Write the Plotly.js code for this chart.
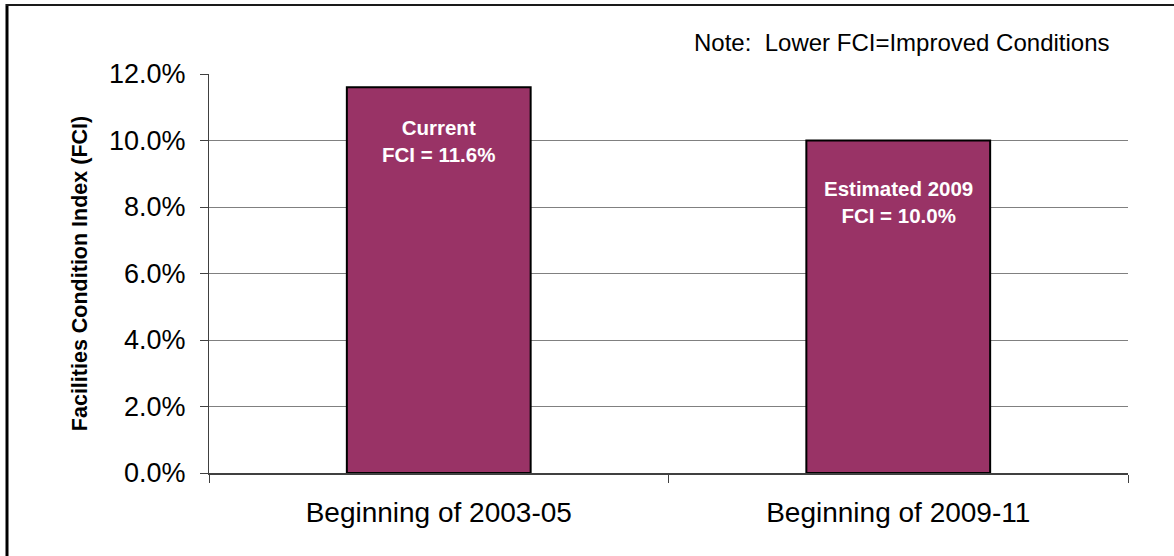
<!DOCTYPE html>
<html><head><meta charset="utf-8">
<script src="https://cdn.plot.ly/plotly-3.0.1.min.js"></script>
<style>html,body{margin:0;padding:0;background:#fff}#chart{width:1174px;height:556px}</style>
</head><body><div id="chart"></div>
<script>
const categories = ["Beginning of 2003-05", "Beginning of 2009-11"];
const fciValues = [0.116, 0.100];
const barLabelPrefixes = ["Current", "Estimated 2009"];
const labelYPositions = [0.0999, 0.0815];
const yTickVals = [0, 0.02, 0.04, 0.06, 0.08, 0.10, 0.12];
const yTickText = ["0.0%", "2.0%", "4.0%", "6.0%", "8.0%", "10.0%", "12.0%"];
const noteText = "Note:  Lower FCI=Improved Conditions";
const yTitle = "Facilities Condition Index (FCI)";

const FONT = "Liberation Sans, Arial, sans-serif";

const trace = {
  type: "bar",
  x: categories,
  y: fciValues,
  width: 0.4,
  marker: {color: "#993366", line: {color: "#000000", width: 2}},
  hoverinfo: "skip"
};

const plotL = 209, plotR = 1128, plotT = 74, plotB = 473;
const pw = plotR - plotL, ph = plotB - plotT;
const px = v => (v - plotL) / pw;
const py = v => (plotB - v) / ph;

const annotations = categories.map((c, i) => ({
  x: c, y: labelYPositions[i], xref: "x", yref: "y",
  text: "<b>" + barLabelPrefixes[i] + "<br>FCI = " + (fciValues[i] * 100).toFixed(1) + "%</b>",
  showarrow: false, xanchor: "center", yanchor: "middle",
  font: {family: FONT, size: 20.5, color: "#ffffff"}
}));
annotations.push({
  x: px(1112), y: py(42), xref: "paper", yref: "paper",
  xanchor: "right", yanchor: "middle",
  text: noteText, showarrow: false,
  font: {family: FONT, size: 24, color: "#000000"}
});

const layout = {
  width: 1174, height: 556,
  margin: {l: plotL, r: 1174 - plotR, t: plotT, b: 556 - plotB, pad: 0},
  paper_bgcolor: "#ffffff", plot_bgcolor: "#ffffff",
  showlegend: false,
  xaxis: {
    type: "category",
    tickson: "boundaries",
    ticks: "outside", ticklen: 8, tickcolor: "#404040", tickwidth: 1,
    showline: true, linecolor: "#404040", linewidth: 1.5,
    showgrid: false,
    ticklabelstandoff: 14,
    tickfont: {family: FONT, size: 28, color: "#000000"},
    fixedrange: true
  },
  yaxis: {
    range: [0, 0.12],
    tickvals: yTickVals, ticktext: yTickText,
    ticks: "outside", ticklen: 8, tickcolor: "#404040", tickwidth: 1,
    showline: true, linecolor: "#404040", linewidth: 1,
    showgrid: true, gridcolor: "#808080", gridwidth: 1,
    zeroline: false,
    ticklabelstandoff: 9,
    tickfont: {family: FONT, size: 27, color: "#000000"},
    title: {text: "<b>" + yTitle + "</b>", font: {family: FONT, size: 21.5, color: "#000000"}, standoff: 15},
    fixedrange: true
  },
  annotations: annotations,
  shapes: [
    {type: "line", xref: "paper", yref: "paper", x0: px(7), x1: px(7), y0: py(4), y1: py(560), line: {color: "#000000", width: 3}},
    {type: "line", xref: "paper", yref: "paper", x0: px(6), x1: px(1180), y0: py(5), y1: py(5), line: {color: "#1a1a1a", width: 2}}
  ]
};

Plotly.newPlot("chart", [trace], layout, {displayModeBar: false, staticPlot: true});
</script>
</body></html>
